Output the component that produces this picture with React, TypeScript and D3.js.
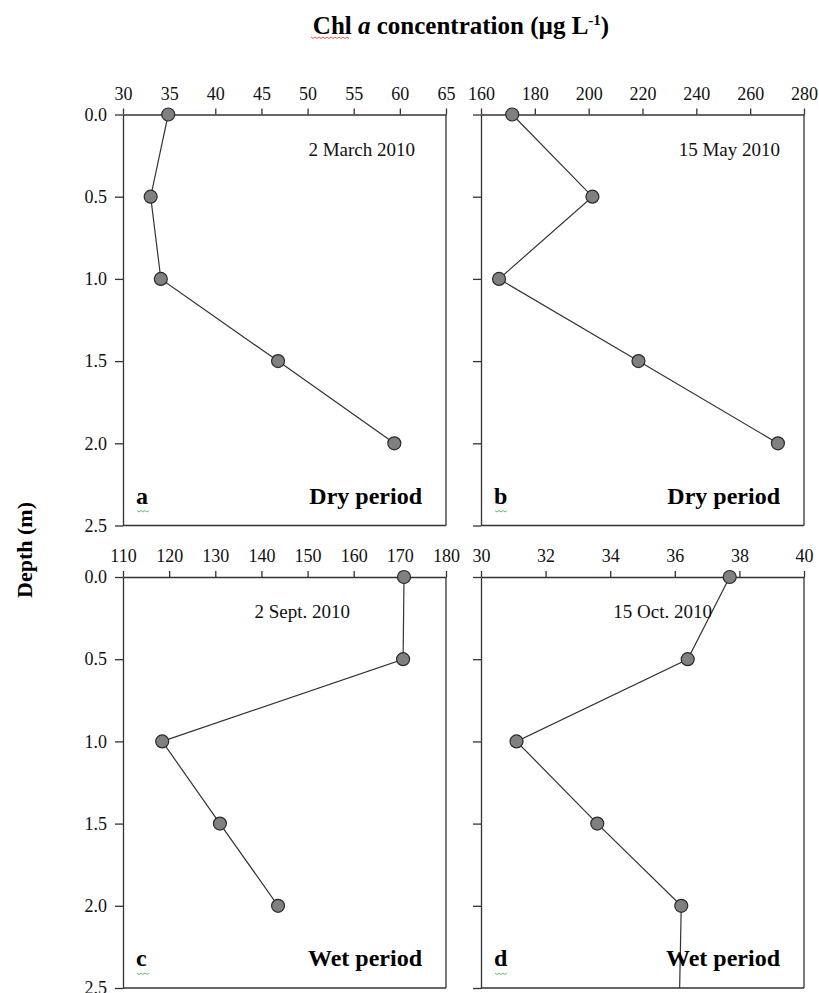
import React, { useEffect, useRef } from 'react';
import * as d3 from 'd3';

// depth of each sample (m)
const depths = [0, 0.5, 1.0, 1.5, 2.0];
const depthTicks = [0, 0.5, 1.0, 1.5, 2.0, 2.5];

// Chl a values (µg L-1) per sampling date
const march = [34.9, 33.0, 34.1, 46.8, 59.4];
const may = [171.6, 201.4, 166.7, 218.5, 270.3];
const sept = [170.9, 170.7, 118.5, 131.0, 143.6];
const oct = [37.7, 36.4, 31.1, 33.6, 36.2];
// the october line runs on to the bottom of the frame
const octTail = { depth: 2.5, value: 36.15 };

const marchTicks = [30, 35, 40, 45, 50, 55, 60, 65];
const mayTicks = [160, 180, 200, 220, 240, 260, 280];
const septTicks = [110, 120, 130, 140, 150, 160, 170, 180];
const octTicks = [30, 32, 34, 36, 38, 40];

const dates = ['2 March 2010', '15 May 2010', '2 Sept. 2010', '15 Oct. 2010'];
const letters = ['a', 'b', 'c', 'd'];
const periods = ['Dry period', 'Dry period', 'Wet period', 'Wet period'];

const FONT = '"Liberation Serif", "Times New Roman", serif';

const App = () => {
  const svgRef = useRef<SVGSVGElement>(null);

  useEffect(() => {
    const width = 819;
    const height = 993;
    const pw = 323;
    const ph = 411;

    const svg = d3.select(svgRef.current).attr('width', width).attr('height', height);
    svg.selectAll('*').remove();

    const panels = [
      { x0: 123, y0: 114.5, ticks: marchTicks, values: march, labels: true, dateX: 415, tail: null },
      { x0: 481, y0: 114.5, ticks: mayTicks, values: may, labels: false, dateX: 780, tail: null },
      { x0: 123, y0: 577, ticks: septTicks, values: sept, labels: true, dateX: 350, tail: null },
      { x0: 481, y0: 577, ticks: octTicks, values: oct, labels: false, dateX: 712, tail: octTail },
    ];

    // Title
    const title = svg
      .append('text')
      .attr('x', 461)
      .attr('y', 34)
      .attr('text-anchor', 'middle')
      .attr('font-family', FONT)
      .attr('font-weight', 'bold')
      .attr('font-size', 25)
      .attr('fill', '#000');
    title.append('tspan').text('Chl ');
    title.append('tspan').attr('font-style', 'italic').text('a');
    title.append('tspan').text(' concentration (µg L');
    title.append('tspan').attr('font-size', 15).attr('dy', -9).text('-1');
    title.append('tspan').attr('dy', 9).text(')');

    // spell-check squiggle under "Chl"
    const squiggle = (x1: number, x2: number, y: number, color: string) => {
      const pts: [number, number][] = [];
      for (let x = x1, i = 0; x <= x2; x += 2, i++) pts.push([x, y + (i % 2 ? 1.5 : 0)]);
      svg.append('path').attr('d', d3.line()(pts)).attr('fill', 'none').attr('stroke', color).attr('stroke-width', 0.8);
    };
    squiggle(311, 349, 37, '#e0301e');

    // Y axis label
    svg
      .append('text')
      .attr('transform', 'translate(32, 550) rotate(-90)')
      .attr('text-anchor', 'middle')
      .attr('font-family', FONT)
      .attr('font-weight', 'bold')
      .attr('font-size', 22)
      .text('Depth (m)');

    panels.forEach((p, i) => {
      const g = svg.append('g').attr('transform', `translate(${p.x0}, ${p.y0})`);
      const x = d3.scaleLinear().domain([p.ticks[0], p.ticks[p.ticks.length - 1]]).range([0, pw]);
      const y = d3.scaleLinear().domain([0, 2.5]).range([0, ph]);

      // frame (right and bottom)
      g.append('line').attr('x1', pw).attr('x2', pw).attr('y1', 0).attr('y2', ph).attr('stroke', '#333').attr('stroke-width', 1.3);
      g.append('line').attr('x1', 0).attr('x2', pw).attr('y1', ph).attr('y2', ph).attr('stroke', '#333').attr('stroke-width', 1.3);

      const top = g
        .append('g')
        .call(d3.axisTop(x).tickValues(p.ticks).tickSize(6).tickPadding(9).tickSizeOuter(0).tickFormat(d3.format('d')));
      const left = g
        .append('g')
        .call(
          d3
            .axisLeft(y)
            .tickValues(depthTicks)
            .tickSize(8)
            .tickPadding(8)
            .tickSizeOuter(0)
            .tickFormat(p.labels ? d3.format('.1f') : () => '')
        );
      [top, left].forEach((ax) => {
        ax.select('.domain').attr('stroke', '#333').attr('stroke-width', 1.3);
        ax.selectAll('.tick line').attr('stroke', '#333').attr('stroke-width', 1.3);
        ax.selectAll('.tick text').attr('font-family', FONT).attr('font-size', 18).attr('fill', '#111');
      });

      const pts = depths.map((d, k) => ({ depth: d, value: p.values[k] }));
      const linePts = p.tail ? [...pts, p.tail] : pts;
      const line = d3
        .line<{ depth: number; value: number }>()
        .x((d) => x(d.value))
        .y((d) => y(d.depth));

      g.append('path').datum(linePts).attr('d', line).attr('fill', 'none').attr('stroke', '#333').attr('stroke-width', 1.2);

      g.selectAll('circle')
        .data(pts)
        .join('circle')
        .attr('cx', (d) => x(d.value))
        .attr('cy', (d) => y(d.depth))
        .attr('r', 6.5)
        .attr('fill', '#808080')
        .attr('stroke', '#2a2a2a')
        .attr('stroke-width', 1.2);

      // date
      svg
        .append('text')
        .attr('x', p.dateX)
        .attr('y', p.y0 + 41)
        .attr('text-anchor', 'end')
        .attr('font-family', FONT)
        .attr('font-size', 19)
        .attr('fill', '#111')
        .text(dates[i]);

      // panel letter
      svg
        .append('text')
        .attr('x', p.x0 + 13)
        .attr('y', p.y0 + ph - 22)
        .attr('font-family', FONT)
        .attr('font-weight', 'bold')
        .attr('font-size', 24)
        .text(letters[i]);
      squiggle(p.x0 + 14, p.x0 + 27, p.y0 + ph - 15, '#3cb043');

      // period
      svg
        .append('text')
        .attr('x', p.x0 + pw - 24)
        .attr('y', p.y0 + ph - 22)
        .attr('text-anchor', 'end')
        .attr('font-family', FONT)
        .attr('font-weight', 'bold')
        .attr('font-size', 24)
        .text(periods[i]);
    });
  }, []);

  return <svg ref={svgRef} style={{ display: 'block', position: 'absolute', left: 0, top: 0 }}></svg>;
};

export default App;
